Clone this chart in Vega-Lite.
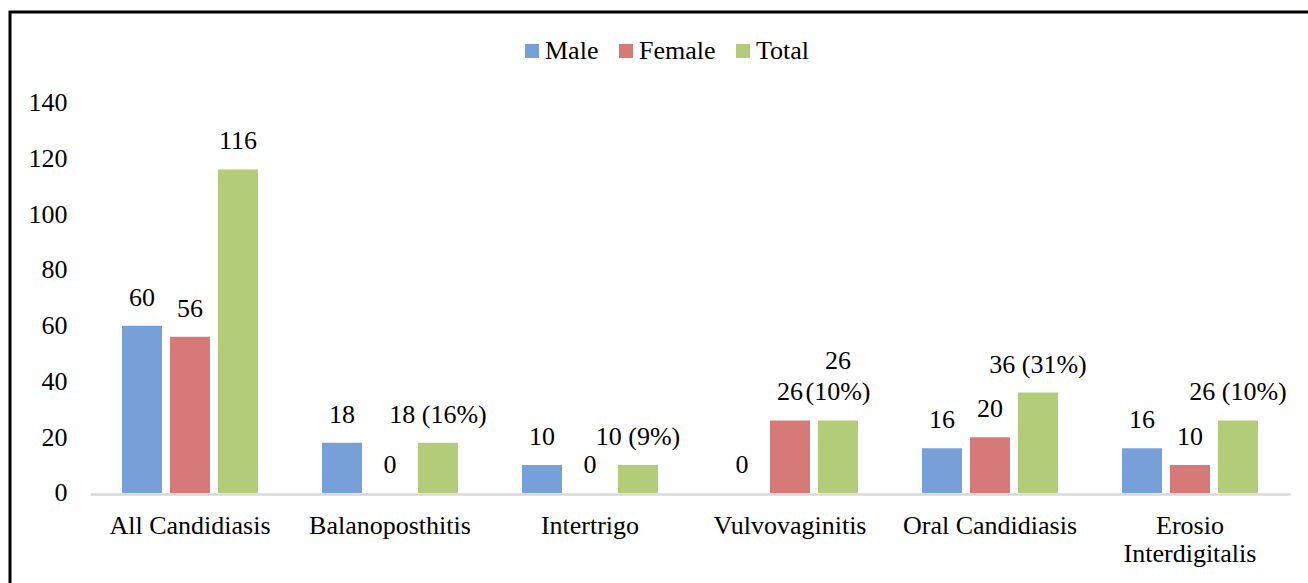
{
  "$schema": "https://vega.github.io/schema/vega-lite/v6.json",
  "autosize": {"type": "none"},
  "padding": {"left": 10, "top": 12, "right": 0, "bottom": 0},
  "width": 1298,
  "height": 571,
  "background": "white",
  "config": {
    "font": "Liberation Serif",
    "view": {"stroke": "black", "strokeWidth": 3, "strokeDash": [1298, 1869, 571, 10]},
    "axis": {"labelFont": "Liberation Serif", "labelFontSize": 26, "labelColor": "black", "ticks": false, "tickSize": 0, "grid": false, "title": null}
  },
  "data": {
    "values": [
      {"condition": "All Candidiasis", "group": "Male", "count": 60, "label": "60"},
      {"condition": "All Candidiasis", "group": "Female", "count": 56, "label": "56"},
      {"condition": "All Candidiasis", "group": "Total", "count": 116, "label": "116"},
      {"condition": "Balanoposthitis", "group": "Male", "count": 18, "label": "18"},
      {"condition": "Balanoposthitis", "group": "Female", "count": 0, "label": "0"},
      {"condition": "Balanoposthitis", "group": "Total", "count": 18, "label": "18 (16%)"},
      {"condition": "Intertrigo", "group": "Male", "count": 10, "label": "10"},
      {"condition": "Intertrigo", "group": "Female", "count": 0, "label": "0"},
      {"condition": "Intertrigo", "group": "Total", "count": 10, "label": "10 (9%)"},
      {"condition": "Vulvovaginitis", "group": "Male", "count": 0, "label": "0"},
      {"condition": "Vulvovaginitis", "group": "Female", "count": 26, "label": "26"},
      {"condition": "Vulvovaginitis", "group": "Total", "count": 26, "label": "26", "label2": "(10%)"},
      {"condition": "Oral Candidiasis", "group": "Male", "count": 16, "label": "16"},
      {"condition": "Oral Candidiasis", "group": "Female", "count": 20, "label": "20"},
      {"condition": "Oral Candidiasis", "group": "Total", "count": 36, "label": "36 (31%)"},
      {"condition": "Erosio Interdigitalis", "group": "Male", "count": 16, "label": "16"},
      {"condition": "Erosio Interdigitalis", "group": "Female", "count": 10, "label": "10"},
      {"condition": "Erosio Interdigitalis", "group": "Total", "count": 26, "label": "26 (10%)"}
    ]
  },
  "encoding": {
    "x": {
      "field": "condition", "type": "nominal", "sort": null,
      "scale": {"range": [80, 1280], "paddingInner": 0, "paddingOuter": 0},
      "axis": {
        "orient": "bottom", "offset": -89, "labelAngle": 0, "labelPadding": 18,
        "labelBaseline": "top", "labelLineHeight": 28, "labelLimit": 400,
        "domain": true, "domainColor": "#d9d9d9", "domainWidth": 2.5,
        "labelExpr": "datum.value == 'Erosio Interdigitalis' ? ['Erosio', 'Interdigitalis'] : datum.value"
      }
    },
    "xOffset": {
      "field": "group", "type": "nominal", "sort": ["Male", "Female", "Total"],
      "scale": {"paddingInner": 0.1667, "paddingOuter": 0.6667}
    },
    "y": {
      "field": "count", "type": "quantitative",
      "scale": {"domain": [-32.27, 172.45], "nice": false, "zero": false},
      "axis": {"orient": "left", "offset": -60, "labelPadding": 3, "domain": false, "values": [0, 20, 40, 60, 80, 100, 120, 140]}
    }
  },
  "layer": [
    {
      "mark": {"type": "bar"},
      "encoding": {
        "y2": {"datum": 0},
        "color": {
          "field": "group", "type": "nominal",
          "scale": {"domain": ["Male", "Female", "Total"], "range": ["#78a0d8", "#d57a77", "#b2cc7a"]},
          "legend": {
            "orient": "none", "legendX": 509, "legendY": 26, "direction": "horizontal",
            "title": null, "symbolType": "square", "symbolSize": 196, "symbolStrokeWidth": 0,
            "labelFont": "Liberation Serif", "labelFontSize": 26, "labelColor": "black",
            "labelOffset": 0, "columnPadding": 14, "padding": 0, "labelLimit": 300
          }
        }
      }
    },
    {
      "transform": [{"filter": "!isValid(datum.label2)"}],
      "mark": {"type": "text", "baseline": "bottom", "dy": -15, "fontSize": 26, "font": "Liberation Serif", "color": "black"},
      "encoding": {
        "text": {"field": "label", "type": "nominal"}
      }
    },
    {
      "transform": [{"filter": "isValid(datum.label2)"}],
      "mark": {"type": "text", "baseline": "bottom", "dy": -46, "fontSize": 26, "font": "Liberation Serif", "color": "black"},
      "encoding": {
        "text": {"field": "label", "type": "nominal"}
      }
    },
    {
      "transform": [{"filter": "isValid(datum.label2)"}],
      "mark": {"type": "text", "baseline": "bottom", "dy": -15, "fontSize": 26, "font": "Liberation Serif", "color": "black"},
      "encoding": {
        "text": {"field": "label2", "type": "nominal"}
      }
    }
  ]
}
